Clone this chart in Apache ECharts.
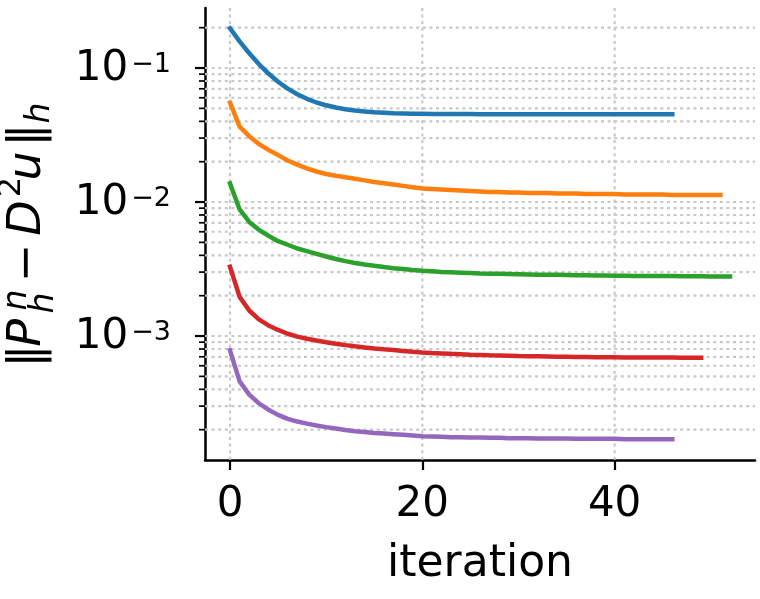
<!DOCTYPE html>
<html lang="en">
<head>
<meta charset="UTF-8">
<title>error per iteration</title>
<script src="https://cdn.jsdelivr.net/npm/echarts@6.0.0/dist/echarts.min.js"></script>
<style>
    * { margin: 0; padding: 0 }
    html, body { width: 100%; height: 100%; background: #fff }
    #main { width: 760px; height: 599px }
</style>
</head>
<body>
<div id="main"></div>
<script type="text/javascript">
    // error after each iteration, one run per array
    var run1 = [0.198, 0.158, 0.129, 0.107, 0.0909, 0.0790, 0.0702, 0.0637, 0.0589, 0.0553, 0.0527,
        0.0507, 0.0493, 0.0482, 0.0474, 0.0468, 0.0464, 0.0460, 0.0458, 0.0456, 0.0455,
        0.0454, 0.0454, 0.0453, 0.0453, 0.0453, 0.0452, 0.0452, 0.0452, 0.0452, 0.0452,
        0.0452, 0.0452, 0.0451, 0.0451, 0.0451, 0.0451, 0.0451, 0.0451, 0.0451, 0.0451,
        0.0451, 0.0451, 0.0451, 0.0451, 0.0451, 0.0451];
    var run2 = [0.0551, 0.0365, 0.0310, 0.0271, 0.0245, 0.0224, 0.0204, 0.0190, 0.0178, 0.0169, 0.0162,
        0.0157, 0.0153, 0.0149, 0.0145, 0.0141, 0.0138, 0.0135, 0.0132, 0.0129, 0.0126,
        0.0125, 0.0124, 0.0123, 0.0122, 0.0121, 0.0120, 0.0119, 0.0119, 0.0118, 0.0118,
        0.0117, 0.0117, 0.0117, 0.0116, 0.0116, 0.0116, 0.0115, 0.0115, 0.0115, 0.0115,
        0.0114, 0.0114, 0.0114, 0.0114, 0.0114, 0.0113, 0.0113, 0.0113, 0.0113, 0.0113, 0.0113];
    var run3 = [0.0138, 0.0088, 0.0071, 0.0062, 0.0056, 0.0051, 0.0048, 0.0045, 0.0043, 0.0041, 0.00392,
        0.00376, 0.00362, 0.00351, 0.00342, 0.00334, 0.00327, 0.00321, 0.00316, 0.00311, 0.00307,
        0.00304, 0.00301, 0.00299, 0.00297, 0.00295, 0.00293, 0.00292, 0.00291, 0.00290, 0.00289,
        0.00288, 0.00287, 0.00286, 0.00286, 0.00285, 0.00284, 0.00284, 0.00283, 0.00283, 0.00282,
        0.00282, 0.00281, 0.00281, 0.00280, 0.00280, 0.00280, 0.00279, 0.00279, 0.00279, 0.00278, 0.00278, 0.00278];
    var run4 = [0.00329, 0.00196, 0.00155, 0.00133, 0.00120, 0.00111, 0.00104, 0.000990, 0.000955, 0.000925, 0.000898,
        0.000875, 0.000855, 0.000838, 0.000822, 0.000808, 0.000796, 0.000785, 0.000773, 0.000763, 0.000755,
        0.000748, 0.000742, 0.000736, 0.000731, 0.000726, 0.000722, 0.000718, 0.000715, 0.000712, 0.000709,
        0.000707, 0.000705, 0.000703, 0.000701, 0.000700, 0.000698, 0.000697, 0.000695, 0.000694, 0.000693,
        0.000692, 0.000692, 0.000691, 0.000691, 0.000690, 0.000690, 0.000689, 0.000689, 0.000689];
    var run5 = [0.000782, 0.000459, 0.000365, 0.000315, 0.000282, 0.000258, 0.000241, 0.000230, 0.000222, 0.000215, 0.000209,
        0.000204, 0.000199, 0.000195, 0.000192, 0.000189, 0.000187, 0.000185, 0.000183, 0.000181, 0.000179,
        0.000178, 0.000177, 0.000176, 0.000176, 0.000175, 0.000175, 0.000174, 0.000174, 0.000173, 0.000173,
        0.000173, 0.000172, 0.000172, 0.000172, 0.000172, 0.000171, 0.000171, 0.000171, 0.000171, 0.000171,
        0.000170, 0.000170, 0.000170, 0.000170, 0.000170, 0.000170];

    var runs = [run1, run2, run3, run4, run5];
    var colors = ['#1f77b4', '#ff7f0e', '#2ca02c', '#d62728', '#9467bd'];

    var xTicks = [0, 20, 40];
    var yMajor = [1e-3, 1e-2, 1e-1];
    var yMinor = [2e-4, 3e-4, 4e-4, 5e-4, 6e-4, 7e-4, 8e-4, 9e-4,
        2e-3, 3e-3, 4e-3, 5e-3, 6e-3, 7e-3, 8e-3, 9e-3,
        2e-2, 3e-2, 4e-2, 5e-2, 6e-2, 7e-2, 8e-2, 9e-2, 2e-1];

    var FONT = 'DejaVu Sans';
    var GRID_COLOR = '#c8c8c8';
    var GRID_DASH = [3, 3.6];

    // y gridline + tick mark at the left spine
    function hLine(params, api) {
        var cs = params.coordSys;
        var y = api.coord([0, api.value(1)])[1];
        var major = api.value(2) === 1;
        return {
            type: 'group',
            children: [{
                type: 'line',
                shape: { x1: cs.x, y1: y, x2: cs.x + cs.width, y2: y },
                style: { stroke: GRID_COLOR, lineWidth: 2.2, lineDash: GRID_DASH }
            }, {
                type: 'line',
                shape: { x1: cs.x - (major ? 10 : 6), y1: y, x2: cs.x, y2: y },
                style: { stroke: '#000', lineWidth: major ? 2.2 : 1.7 }
            }]
        };
    }

    function vLine(params, api) {
        var cs = params.coordSys;
        var x = api.coord([api.value(0), 0.01])[0];
        return {
            type: 'line',
            shape: { x1: x, y1: cs.y, x2: x, y2: cs.y + cs.height },
            style: { stroke: GRID_COLOR, lineWidth: 2.2, lineDash: GRID_DASH }
        };
    }

    var hData = yMajor.map(function (v) { return [0, v, 1]; })
        .concat(yMinor.map(function (v) { return [0, v, 0]; }));
    var vData = xTicks.map(function (v) { return [v, 0.01]; });

    // y label  ‖P_h^n − D²u‖_h  laid out along the rotated baseline
    var labelParts = [
        ['‖', 6, -20, 46, 'normal'],
        ['P', 29, -20, 46, 'italic'],
        ['n', 62, -31, 33, 'italic'],
        ['h', 59, -4, 33, 'italic'],
        ['−', 99, -20, 46, 'normal'],
        ['D', 144, -20, 46, 'italic'],
        ['2', 175, -36, 32, 'normal'],
        ['u', 196, -20, 46, 'italic'],
        ['‖', 227, -20, 46, 'normal'],
        ['h', 249, -8, 33, 'italic']
    ];

    var series = runs.map(function (r, k) {
        return {
            type: 'line',
            data: r.map(function (v, i) { return [i, v]; }),
            showSymbol: false,
            symbol: 'none',
            lineStyle: { color: colors[k], width: 4.5, cap: 'square' },
            z: 3
        };
    });
    series.unshift({ type: 'custom', renderItem: hLine, data: hData, clip: false, z: 1, silent: true });
    series.unshift({ type: 'custom', renderItem: vLine, data: vData, clip: false, z: 1, silent: true });

    var myChart = echarts.init(document.getElementById('main'));
    var option = {
        animation: false,
        backgroundColor: '#fff',
        grid: { left: 205, right: 5, top: 8, bottom: 139 },
        xAxis: {
            type: 'value',
            min: -2.6,
            max: 54.6,
            name: 'iteration',
            nameLocation: 'middle',
            nameGap: 83,
            nameTextStyle: { fontFamily: FONT, fontSize: 44, color: '#000' },
            axisLine: { show: true, onZero: false, lineStyle: { color: '#000', width: 2.5 } },
            axisTick: { show: true, length: 10, lineStyle: { color: '#000', width: 2.2 }, customValues: xTicks },
            axisLabel: { fontFamily: FONT, fontSize: 42, color: '#000', margin: 24, customValues: xTicks },
            splitLine: { show: false }
        },
        yAxis: {
            type: 'log',
            logBase: 10,
            min: 1.188e-4,
            max: 0.2805,
            axisLine: { show: true, onZero: false, lineStyle: { color: '#000', width: 2.5 } },
            axisTick: { show: false },
            splitLine: { show: false },
            minorTick: { show: false },
            axisLabel: {
                margin: 34,
                formatter: function (v) {
                    var e = Math.log10(v);
                    if (Math.abs(e - Math.round(e)) > 1e-6) return '';
                    return '{b|10}{s|−' + (-Math.round(e)) + '}';
                },
                rich: {
                    b: { fontFamily: FONT, fontSize: 42, color: '#000', lineHeight: 44, verticalAlign: 'bottom' },
                    s: { fontFamily: FONT, fontSize: 27, color: '#000', lineHeight: 27, verticalAlign: 'top', padding: [5, 0, 0, 3] }
                }
            }
        },
        graphic: [{
            type: 'group',
            x: 48,
            y: 362,
            rotation: Math.PI / 2,
            children: labelParts.map(function (p) {
                return {
                    type: 'text',
                    x: p[1],
                    y: p[2],
                    style: {
                        text: p[0],
                        fontFamily: FONT,
                        fontSize: p[3],
                        fontStyle: p[4],
                        fill: '#000',
                        align: 'center',
                        textAlign: 'center',
                        verticalAlign: 'middle',
                        textVerticalAlign: 'middle'
                    }
                };
            })
        }],
        series: series
    };
    myChart.setOption(option);
</script>
</body>
</html>
